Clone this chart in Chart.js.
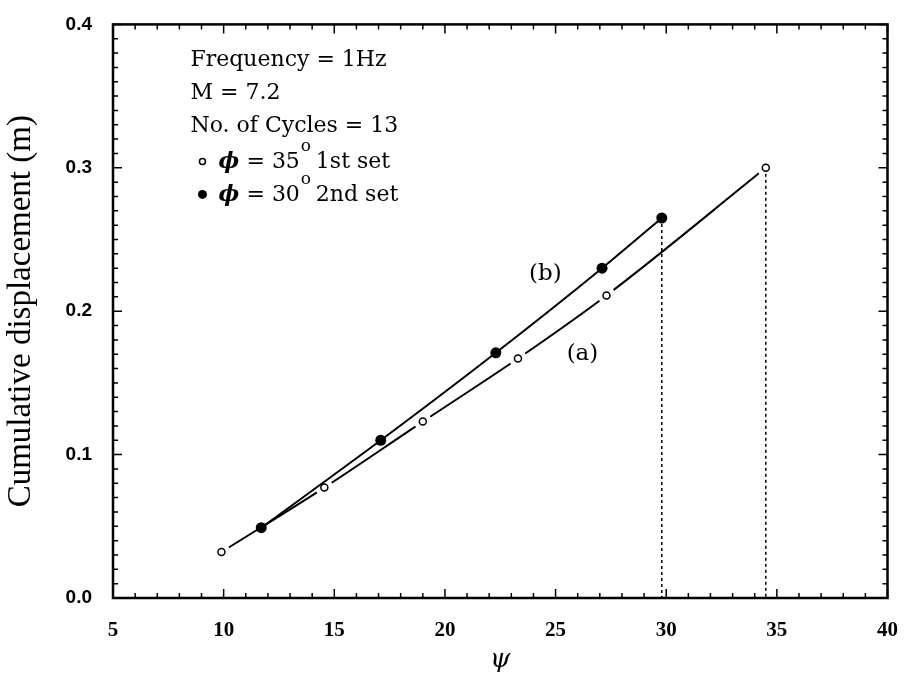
<!DOCTYPE html>
<html>
<head>
<meta charset="utf-8">
<script src="https://cdn.jsdelivr.net/npm/chart.js@4.4.1/dist/chart.umd.min.js"></script>
<style>
  html, body { margin: 0; padding: 0; background: #fff; }
  #wrap { width: 910px; height: 682px; }
</style>
</head>
<body>
<div id="wrap"><canvas id="c" width="910" height="682"></canvas></div>
<script>
// (a) phi = 35 deg, 1st set (open circles)
const psiA = [9.9, 14.55, 19.0, 23.3, 27.3, 34.5];
const dispA = [0.032, 0.077, 0.123, 0.167, 0.211, 0.300];
// (b) phi = 30 deg, 2nd set (filled circles)
const psiB = [11.7, 17.1, 22.3, 27.1, 29.8];
const dispB = [0.049, 0.110, 0.171, 0.230, 0.265];

const xTicks = [5, 10, 15, 20, 25, 30, 35, 40];
const yTicks = [0.0, 0.1, 0.2, 0.3, 0.4];

const textLines = ["Frequency = 1Hz", "M = 7.2", "No. of Cycles = 13"];

function pts(xs, ys) {
    return xs.map((x, i) => ({ x: x, y: ys[i] }));
}

const lastA = psiA.length - 1;
const lastB = psiB.length - 1;

// frame + inward ticks + text notes
const framePlugin = {
    id: 'frame',
    afterDraw(chart) {
        const ctx = chart.ctx;
        const a = chart.chartArea;
        const xs = chart.scales.x;
        const ys = chart.scales.y;
        ctx.save();
        ctx.strokeStyle = '#000';
        ctx.lineWidth = 1.5;
        ctx.beginPath();
        for (let v = 5; v <= 40; v++) {
            const px = xs.getPixelForValue(v);
            const len = v % 5 == 0 ? 9 : 5;
            ctx.moveTo(px, a.bottom); ctx.lineTo(px, a.bottom - len);
            ctx.moveTo(px, a.top); ctx.lineTo(px, a.top + len);
        }
        for (let k = 0; k <= 40; k++) {
            const py = ys.getPixelForValue(k / 100);
            const len = k % 10 == 0 ? 9 : 5;
            ctx.moveTo(a.left, py); ctx.lineTo(a.left + len, py);
            ctx.moveTo(a.right, py); ctx.lineTo(a.right - len, py);
        }
        ctx.stroke();
        ctx.lineWidth = 2.5;
        ctx.strokeRect(a.left, a.top, a.right - a.left, a.bottom - a.top);

        // notes
        ctx.fillStyle = '#000';
        ctx.textBaseline = 'alphabetic';
        ctx.textAlign = 'left';
        const f = '22px "DejaVu Serif"';
        ctx.font = f;
        const lx = xs.getPixelForValue(8.5);
        const ly = a.top + 42;
        const gap = 33;
        textLines.forEach((t, i) => {
            ctx.fillText(t, lx, ly + i * gap);
        });
        const rows = [["35", "1st set", false], ["30", "2nd set", true]];
        rows.forEach((r, i) => {
            const by = ly + (3 + i) * gap + 3;
            const mx = lx + 12;
            ctx.beginPath();
            if (r[2]) {
                ctx.arc(mx, by - 7, 4.5, 0, Math.PI * 2);
                ctx.fill();
            } else {
                ctx.lineWidth = 1.5;
                ctx.arc(mx, by - 7, 3, 0, Math.PI * 2);
                ctx.stroke();
            }
            ctx.font = 'italic bold 22px "DejaVu Serif"';
            ctx.fillText('\u03d5', lx + 28, by);
            ctx.font = f;
            ctx.fillText('= ' + r[0], lx + 56, by);
            const w = ctx.measureText('= ' + r[0]).width;
            ctx.font = '17px "DejaVu Serif"';
            ctx.fillText('o', lx + 56 + w + 1, by - 17);
            ctx.font = f;
            ctx.fillText(r[1], lx + 56 + w + 16, by);
        });

        ctx.font = '23px "DejaVu Serif"';
        ctx.fillText('(b)', xs.getPixelForValue(23.8), ys.getPixelForValue(0.222));
        ctx.fillText('(a)', xs.getPixelForValue(25.5), ys.getPixelForValue(0.166));
        ctx.restore();
    }
};

new Chart(document.getElementById('c'), {
    type: 'scatter',
    data: {
        datasets: [
            {
                label: '(a) line',
                data: pts(psiA, dispA),
                showLine: true,
                cubicInterpolationMode: 'monotone',
                borderColor: '#000',
                borderWidth: 2,
                pointRadius: 0,
                order: 6
            },
            {
                label: 'gaps',
                data: pts(psiA, dispA),
                pointRadius: 9,
                pointBackgroundColor: '#fff',
                pointBorderWidth: 0,
                order: 5
            },
            {
                label: '(b) line',
                data: pts(psiB, dispB),
                showLine: true,
                cubicInterpolationMode: 'monotone',
                borderColor: '#000',
                borderWidth: 2,
                pointRadius: 0,
                order: 4
            },
            {
                label: 'drop b',
                data: [{ x: psiB[lastB], y: dispB[lastB] }, { x: psiB[lastB], y: 0 }],
                showLine: true,
                borderColor: '#000',
                borderWidth: 1.5,
                borderDash: [3, 3],
                pointRadius: 0,
                order: 3
            },
            {
                label: 'drop a',
                data: [{ x: psiA[lastA], y: dispA[lastA] }, { x: psiA[lastA], y: 0 }],
                showLine: true,
                borderColor: '#000',
                borderWidth: 1.5,
                borderDash: [3, 3],
                pointRadius: 0,
                order: 3
            },
            {
                label: 'phi = 35, 1st set',
                data: pts(psiA, dispA),
                pointRadius: 3.5,
                pointBackgroundColor: '#fff',
                pointBorderColor: '#000',
                pointBorderWidth: 1.5,
                order: 1
            },
            {
                label: 'phi = 30, 2nd set',
                data: pts(psiB, dispB),
                pointRadius: 5.5,
                pointBackgroundColor: '#000',
                pointBorderColor: '#000',
                pointBorderWidth: 0,
                order: 1
            }
        ]
    },
    options: {
        responsive: false,
        animation: false,
        layout: { padding: { top: 21, right: 17, left: 0, bottom: 0 } },
        plugins: {
            legend: { display: false },
            tooltip: { enabled: false }
        },
        scales: {
            x: {
                type: 'linear',
                min: 5,
                max: 40,
                afterBuildTicks: (s) => { s.ticks = xTicks.map(v => ({ value: v })); },
                afterFit: (s) => { s.height = 84; },
                grid: { display: false },
                border: { display: false },
                ticks: {
                    color: '#000',
                    padding: 12,
                    font: { family: 'Liberation Serif', size: 21, weight: 'bold' }
                },
                title: {
                    display: true,
                    text: '\u03c8',
                    color: '#000',
                    padding: { top: 0, bottom: 6 },
                    font: { family: 'DejaVu Serif', size: 26, style: 'italic' }
                }
            },
            y: {
                type: 'linear',
                min: 0,
                max: 0.4,
                afterBuildTicks: (s) => { s.ticks = yTicks.map(v => ({ value: v })); },
                afterFit: (s) => { s.width = 113; },
                grid: { display: false },
                border: { display: false },
                ticks: {
                    color: '#000',
                    padding: 13,
                    callback: (v) => Number(v).toFixed(1),
                    font: { family: 'Liberation Sans', size: 19, weight: 'bold' }
                },
                title: {
                    display: true,
                    text: 'Cumulative displacement (m)',
                    color: '#000',
                    padding: { top: 2, bottom: 0 },
                    font: { family: 'Liberation Serif', size: 33 }
                }
            }
        }
    },
    plugins: [framePlugin]
});
</script>
</body>
</html>
